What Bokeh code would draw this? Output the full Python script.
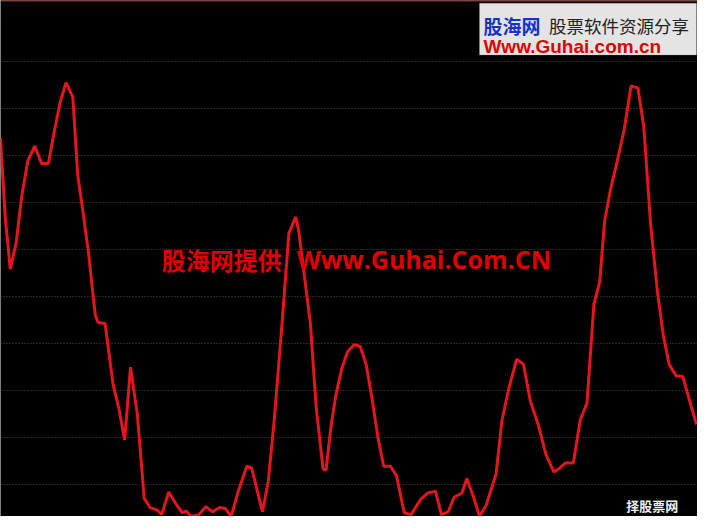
from bokeh.plotting import figure
from bokeh.models import Range1d, FixedTicker, Label, BoxAnnotation, Span
from bokeh.embed import file_html
from bokeh.resources import INLINE

# ---- data ----
day = [0, 5, 10, 16, 22, 28, 35, 42, 49, 55, 61, 67, 74, 79, 84, 90, 97, 100, 107,
       115, 121, 127, 133, 140, 147, 153, 160, 165, 172, 180, 186, 190, 195, 203,
       210, 217, 224, 230, 236, 243, 252, 257, 263, 268, 274, 280, 288, 295, 302,
       305, 311, 317, 323, 330, 333, 338, 343, 349, 355, 362, 368, 374, 380, 386,
       392, 399, 405, 413, 420, 430, 437, 445, 451, 458, 464, 472, 477, 484, 490,
       497, 507, 513, 520, 528, 535, 542, 550, 558, 566, 572, 578, 586, 593, 600,
       607, 613, 618, 624, 631, 638, 645, 652, 658, 665, 672, 678, 684, 691, 698,
       705, 712]
value = [83.7, 66.5, 55.8, 61.4, 71.7, 78.9, 82.0, 78.3, 78.3, 85.1, 91.3, 95.5,
         92.4, 75.8, 68.6, 59.3, 45.9, 44.4, 44.2, 31.4, 26.2, 19.4, 34.9, 24.8,
         7.0, 5.0, 4.5, 3.5, 8.3, 5.6, 3.9, 4.3, 3.1, 3.5, 5.2, 4.1, 5.0, 4.8, 3.1,
         8.3, 13.8, 13.4, 8.3, 4.1, 10.7, 23.6, 44.2, 63.4, 66.9, 64.0, 54.1, 44.2,
         26.2, 13.2, 13.0, 22.1, 28.9, 34.5, 38.2, 39.7, 39.3, 35.5, 28.3, 20.0,
         13.8, 13.8, 11.8, 3.9, 3.5, 6.8, 8.1, 8.5, 3.5, 4.1, 7.2, 8.1, 11.2, 7.2,
         3.1, 5.6, 12.2, 23.6, 30.4, 36.6, 35.5, 27.7, 22.7, 16.3, 12.6, 13.4,
         14.5, 14.5, 23.6, 27.3, 48.3, 53.1, 66.1, 72.7, 78.9, 85.5, 94.8, 94.4,
         86.2, 65.5, 51.0, 41.7, 35.5, 33.1, 32.9, 27.7, 22.7]
grid_levels = [10, 20, 30, 40, 50, 60, 70, 80, 90, 100]

p = figure(width=697, height=516, output_backend="svg", toolbar_location=None,
           x_range=Range1d(0, 713), y_range=Range1d(3.1, 113.0),
           min_border=0, min_border_left=0, min_border_right=0,
           min_border_top=0, min_border_bottom=0)
p.background_fill_color = "#000000"
p.border_fill_color = "#000000"
p.outline_line_color = None
p.axis.visible = False
p.xgrid.visible = False
p.ygrid.ticker = FixedTicker(ticks=grid_levels)
p.ygrid.grid_line_color = "#4d4d4d"
p.ygrid.grid_line_dash = "1 2"
p.ygrid.grid_line_width = 1

# top thin dark-red border
p.add_layout(Span(location=113.0, dimension="width", line_color="#6a0c0c", line_width=3))

p.line(day, value, line_color="#e3161e", line_width=3)

# watermark
p.add_layout(Label(x=165, y=57.9, text="股海网提供", text_color="#e00000",
                   text_font="Noto Sans CJK SC", text_font_style="bold",
                   text_font_size="24px", text_baseline="middle"))
p.add_layout(Label(x=303, y=57.9, text="Www.Guhai.Com.CN", text_color="#e00000",
                   text_font="Open Sans", text_font_style="bold",
                   text_font_size="25px", text_baseline="middle"))

# logo box top right
p.add_layout(BoxAnnotation(left=490, right=712, top=112.4, bottom=101.4,
                           fill_color="#e4e4e4", fill_alpha=1.0,
                           line_color="#9a9a9a", line_width=1))
p.add_layout(Label(x=494, y=107.6, text="股海网", text_color="#1533c8",
                   text_font="Noto Sans CJK SC", text_font_style="bold",
                   text_font_size="19px", text_baseline="middle"))
p.add_layout(Label(x=561, y=107.6, text="股票软件资源分享", text_color="#222222",
                   text_font="Noto Sans CJK SC", text_font_size="17.5px",
                   text_baseline="middle"))
p.add_layout(Label(x=494, y=103.3, text="Www.Guhai.com.cn", text_color="#e00000",
                   text_font="Liberation Sans", text_font_style="bold",
                   text_font_size="19px", text_baseline="middle"))

# bottom-right caption
p.add_layout(Label(x=640, y=3.4, text="择股票网", text_color="#f0f0f0",
                   text_font="Noto Sans CJK SC", text_font_style="bold",
                   text_font_size="13px", text_baseline="bottom"))

open("out.html", "w").write(file_html(p, INLINE))
